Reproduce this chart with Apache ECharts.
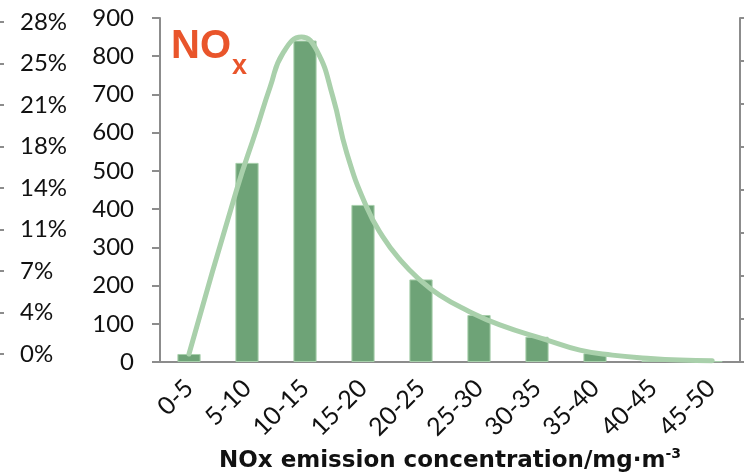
<!DOCTYPE html>
<html>
<head>
<meta charset="utf-8">
<script src="https://cdn.jsdelivr.net/npm/echarts@6/dist/echarts.min.js"></script>
<style>html,body{margin:0;padding:0;background:#fff}#c{width:744px;height:474px}</style>
</head>
<body>
<div id="c"></div>
<script>
const categories = ['0-5','5-10','10-15','15-20','20-25','25-30','30-35','35-40','40-45','45-50'];
const counts = [21, 521, 841, 411, 216, 123, 66, 23, 4, 2];
// fitted curve: [concentration mg/m3, count]
const curveX = [2.5, 6.6, 8.3, 9.5, 10.6, 12.2, 13.5, 14.9, 16.1, 17.8, 19.2, 20.7, 22.4, 24.1, 26.4, 29.3, 33.3, 36.2, 39.0, 42.0, 44.8, 47.6];
const curveY = [21, 450, 607, 720, 808, 850, 816, 694, 547, 406, 328, 267, 215, 175, 136, 97, 58, 31, 18, 10, 5, 3];
const countTicks = {min: 0, max: 900, interval: 100};
const pctTicks = {min: 0, max: 28, interval: 3.5};

const axisGray = '#8c8c8c';
const font = 'Lato, "Open Sans", sans-serif';
const chart = echarts.init(document.getElementById('c'), null, {renderer: 'canvas'});
chart.setOption({
  animation: false,
  backgroundColor: '#ffffff',
  grid: [
    {left: 160, right: 4, top: 18, bottom: 112, containLabel: false, outerBoundsMode: 'none'},
    {left: 4, width: 1, top: 22, bottom: 120, containLabel: false, outerBoundsMode: 'none'}
  ],
  graphic: [
    {type: 'text', left: 171, top: 27, style: {text: 'NO', font: 'bold 40px "Liberation Sans", Arial, sans-serif', fill: '#e9552b'}},
    {type: 'text', left: 232, top: 53, style: {text: 'x', font: 'bold 27px "Liberation Sans", Arial, sans-serif', fill: '#e9552b'}}
  ],
  xAxis: [
    {
      type: 'category', gridIndex: 0, data: categories, boundaryGap: true,
      axisLine: {lineStyle: {color: axisGray, width: 2}},
      axisTick: {length: 8, lineStyle: {color: axisGray, width: 2}},
      axisLabel: {rotate: 45, margin: 22, fontSize: 25, fontFamily: font, color: '#111'},
      name: '{n|NOx emission concentration/mg·m}{s|-3}',
      nameLocation: 'middle', nameGap: 85,
      nameTextStyle: {
        rich: {
          n: {fontSize: 23, fontWeight: 'bold', fontFamily: '"DejaVu Sans", sans-serif', color: '#111'},
          s: {fontSize: 14, fontWeight: 'bold', fontFamily: '"DejaVu Sans", sans-serif', color: '#111', verticalAlign: 'top', padding: [0, 0, 14, 0]}
        }
      }
    },
    {type: 'value', gridIndex: 0, min: 0, max: 50, show: false},
    {type: 'value', gridIndex: 1, show: false}
  ],
  yAxis: [
    {
      type: 'value', gridIndex: 0, min: countTicks.min, max: countTicks.max, interval: countTicks.interval,
      axisLine: {show: true, lineStyle: {color: axisGray, width: 2}},
      axisTick: {show: true, length: 8, lineStyle: {color: axisGray, width: 2}},
      axisLabel: {margin: 26, fontSize: 24, fontFamily: font, color: '#111'},
      splitLine: {show: false}
    },
    {
      type: 'value', gridIndex: 0, position: 'right', min: 0, max: 8, interval: 1,
      axisLine: {show: true, lineStyle: {color: axisGray, width: 2}},
      axisTick: {show: true, length: 5, lineStyle: {color: axisGray, width: 2}},
      axisLabel: {show: false},
      splitLine: {show: false}
    },
    {
      type: 'value', gridIndex: 1, position: 'left', min: pctTicks.min, max: pctTicks.max, interval: pctTicks.interval,
      axisLine: {show: false},
      axisTick: {show: true, length: 5, lineStyle: {color: axisGray, width: 2}},
      axisLabel: {inside: true, margin: 16, fontSize: 24, fontFamily: font, color: '#111',
        formatter: v => Math.round(v) + '%'},
      splitLine: {show: false}
    }
  ],
  series: [
    {
      type: 'bar', xAxisIndex: 0, yAxisIndex: 0, data: counts, barWidth: '40%',
      itemStyle: {color: '#6ea377', borderColor: '#a8cfac', borderWidth: 1}
    },
    {
      type: 'line', xAxisIndex: 1, yAxisIndex: 0,
      data: curveX.map((x, i) => [x, curveY[i]]),
      smooth: 0.5, showSymbol: false,
      lineStyle: {color: '#a9d0ab', width: 5, cap: 'round'}
    }
  ]
});
</script>
</body>
</html>
